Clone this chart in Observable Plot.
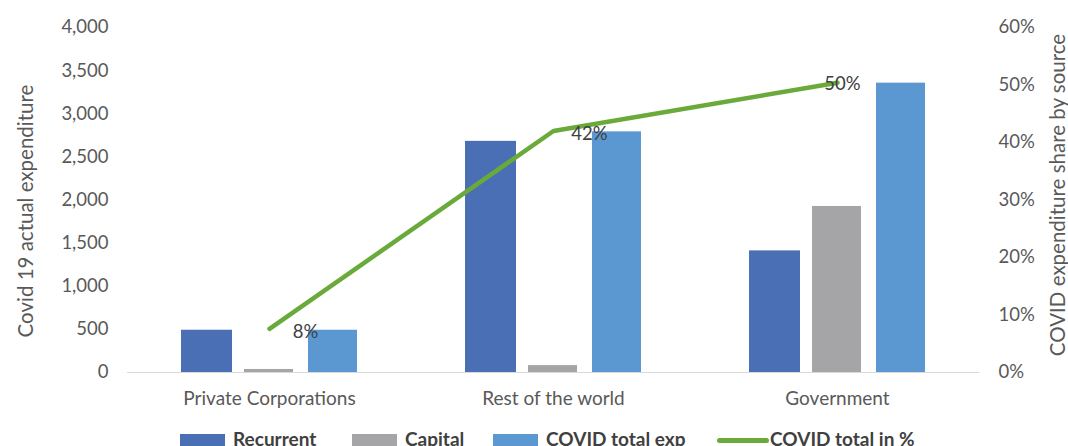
<!DOCTYPE html>
<html>
<head>
<meta charset="utf-8">
<script src="https://cdn.jsdelivr.net/npm/d3@7"></script>
<script src="https://cdn.jsdelivr.net/npm/@observablehq/plot@0.6"></script>
<style>
  html, body { margin: 0; padding: 0; background: #fff; overflow: hidden; }
  #wrap { position: relative; width: 1068px; height: 446px; font-family: Lato, "Open Sans", sans-serif; }
  #legend { position: absolute; left: 0; top: 427px; width: 1068px; height: 19px;
            font-weight: bold; font-size: 19px; color: #404040; white-space: nowrap; }
  .item { position: absolute; top: 0; display: flex; align-items: flex-start; }
  .sw { width: 45px; height: 14px; margin-top: 7px; margin-right: 8px; }
  .ln { width: 52px; height: 5px; margin-top: 11px; margin-right: 1px; border-radius: 3px; }
</style>
</head>
<body>
<div id="wrap">
  <div id="chart"></div>
  <div id="legend"></div>
</div>
<script>
const categories = ["Private Corporations", "Rest of the world", "Government"];
const recurrent = [490, 2680, 1410];
const capital = [35, 80, 1925];
const totalExp = [490, 2790, 3355];
const sharePct = [0.076, 0.420, 0.504];
const leftTicks = [0, 500, 1000, 1500, 2000, 2500, 3000, 3500, 4000];
const rightTicks = [0, 0.1, 0.2, 0.3, 0.4, 0.5, 0.6];
const seriesNames = ["Recurrent", "Capital", "COVID total  exp", "COVID total in %"];
const colors = ["#4a6fb5", "#a5a4a7", "#5b98d1", "#6aaa3a"];
const legendLeft = [180, 352, 493, 717];

const yMax = 4000, pMax = 0.6;
const toY = p => p * yMax / pMax;

const rows = categories.map((c, i) => ({
  cat: c, rec: recurrent[i], cap: capital[i], tot: totalExp[i], pct: sharePct[i], i
}));

const W = 1068, H = 425;
const chart = Plot.plot({
  width: W, height: H,
  marginLeft: 127, marginRight: 89, marginTop: 27, marginBottom: 53,
  style: { fontFamily: "Lato, 'Open Sans', sans-serif", fontSize: "18.5px", color: "#595959", background: "#fff" },
  x: { type: "band", domain: categories, padding: 0, label: null },
  y: { domain: [0, yMax], label: null },
  marks: [
    Plot.barY(rows, { x: "cat", y: "rec", fill: colors[0], insetLeft: 54, insetRight: 179 }),
    Plot.barY(rows, { x: "cat", y: "cap", fill: colors[1], insetLeft: 117, insetRight: 118 }),
    Plot.barY(rows, { x: "cat", y: "tot", fill: colors[2], insetLeft: 181, insetRight: 54 }),
    Plot.ruleY([0], { stroke: "#d9d9d9", strokeWidth: 1.2 }),
    Plot.line(rows, { x: "cat", y: d => toY(d.pct), stroke: colors[3], strokeWidth: 4.5, strokeLinecap: "round", strokeLinejoin: "round" }),
    Plot.text(rows.filter(d => d.i < 2), { x: "cat", y: d => toY(d.pct), text: d => d3.format(".0%")(d.pct), dx: 36, dy: 3, fill: "#404040", fontSize: 18.5 }),
    Plot.text(rows.filter(d => d.i === 2), { x: "cat", y: d => toY(d.pct), text: d => d3.format(".0%")(d.pct), dx: 5, dy: 1, fill: "#404040", fontSize: 18.5 }),
    Plot.axisY({ anchor: "left", ticks: leftTicks, tickFormat: d3.format(","), tickSize: 0, tickPadding: 19, label: null, fontSize: 18.5 }),
    Plot.axisY({ anchor: "right", ticks: rightTicks.map(toY), tickFormat: d => d3.format(".0%")(d / yMax * pMax), tickSize: 0, tickPadding: 19, label: null, fontSize: 18.5 }),
    Plot.axisX({ tickSize: 0, tickPadding: 19, label: null, fontSize: 19 })
  ]
});
document.getElementById("chart").appendChild(chart);

const svg = d3.select(chart);
svg.append("text")
  .attr("transform", "translate(25,211) rotate(-90)")
  .attr("text-anchor", "middle").attr("dominant-baseline", "central")
  .attr("fill", "#595959").style("font-size", "20.5px")
  .text("Covid 19 actual expenditure");
svg.append("text")
  .attr("transform", "translate(1057,195) rotate(-90)")
  .attr("text-anchor", "middle").attr("dominant-baseline", "central")
  .attr("fill", "#595959").style("font-size", "20.5px")
  .text("COVID expenditure share by source");

const legend = d3.select("#legend");
seriesNames.forEach((name, i) => {
  const it = legend.append("div").attr("class", "item").style("left", legendLeft[i] + "px");
  it.append("div").attr("class", i === 3 ? "ln" : "sw").style("background", colors[i]);
  it.append("span").text(name);
});
</script>
</body>
</html>
